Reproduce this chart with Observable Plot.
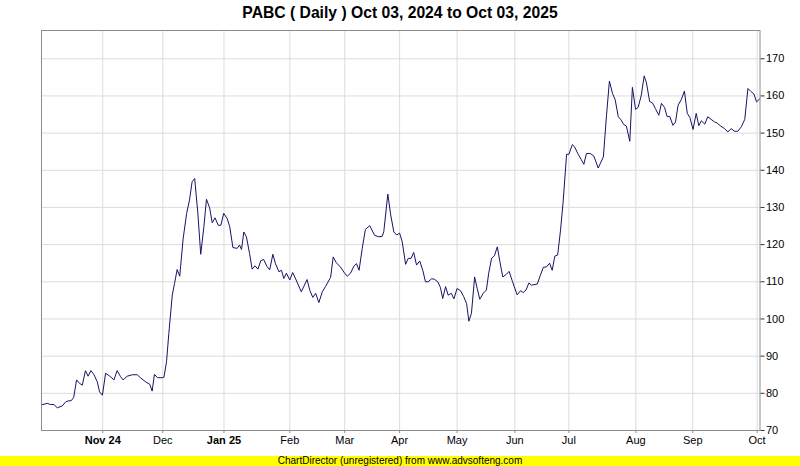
<!DOCTYPE html>
<html>
<head>
<meta charset="utf-8">
<script src="https://cdn.jsdelivr.net/npm/d3@7"></script>
<script src="https://cdn.jsdelivr.net/npm/@observablehq/plot@0.6"></script>
<style>
  html, body { margin: 0; padding: 0; background: #fff; }
  body { width: 800px; height: 466px; overflow: hidden; font-family: "Liberation Sans", Arial, sans-serif; }
  #title { height: 29px; line-height: 26px; text-align: center; font-weight: bold; font-size: 15.7px; color: #000; }
  #footer { height: 10px; line-height: 10px; background: #ffff00; text-align: center; font-size: 10px; color: #000; }
  #chart svg { display: block; }
</style>
</head>
<body>
<div id="title">PABC ( Daily ) Oct 03, 2024 to Oct 03, 2025</div>
<div id="chart"></div>
<div id="footer">ChartDirector (unregistered) from www.advsofteng.com</div>
<script>
// trading-day index (0 = Oct 03, 2024 ... 250 = Oct 03, 2025)
const days = [
  0.0, 2.0, 3.1, 4.3, 5.5, 7.2, 8.4, 9.5, 10.3, 11.2, 12.2, 13.2, 14.2, 15.3, 16.2, 17.2, 18.2, 19.4, 20.2, 21.2,
  22.3, 23.8, 25.2, 26.3, 27.5, 28.4, 29.8, 31.6, 33.3, 34.4, 36.2, 37.7, 38.5, 39.3, 40.4, 42.0, 42.6,
  43.5, 44.3, 45.5, 46.3, 47.2, 48.1, 48.6, 49.3, 50.5, 51.5, 52.4, 53.3, 54.4, 55.4, 56.5, 57.4, 58.5, 59.4,
  60.4, 61.5, 62.4, 63.4, 64.6, 65.5, 66.6, 68.1, 68.9, 69.6, 70.4, 71.3, 72.4, 73.3, 74.3, 75.3, 76.3, 77.3,
  78.4, 79.4,
  80.5, 81.4, 82.6, 83.5, 84.3, 85.2, 86.4, 87.4, 88.6, 90.4, 91.3, 92.4, 93.4, 94.4, 95.4, 96.5, 97.7, 98.8,
  100.6, 101.5, 102.6, 104.0, 105.4, 106.4, 107.5, 108.7, 109.6, 110.5, 111.6, 112.7, 114.2, 115.9, 117.4,
  118.5, 119.1, 120.5, 121.5, 122.6, 123.6, 124.6,
  125.5, 126.7, 127.6, 128.6, 129.5, 130.5, 131.6, 132.7, 133.6, 134.5, 135.7, 136.7, 137.9, 138.8, 139.6,
  140.6, 141.5, 142.6, 143.5, 144.6, 145.8, 146.9, 147.9, 148.7, 149.6, 150.7, 151.6, 152.5, 153.7, 154.8,
  155.6, 156.6, 157.6, 158.6, 159.5, 160.5, 161.7, 162.7, 163.9, 165.5, 166.7, 167.6, 168.6, 169.6,
  170.5, 172.5, 173.6, 174.6, 175.7, 176.8, 177.7, 178.6, 179.6, 180.6, 181.5, 182.7, 183.5, 184.7, 185.5,
  186.6, 187.8, 188.7, 189.6, 191.0, 192.2, 193.7, 195.5, 196.6, 197.6, 198.7, 199.6, 200.7, 201.5, 202.6,
  203.5, 204.7, 205.6, 206.7, 207.6, 208.7, 209.7, 210.5, 211.6, 212.6, 213.6, 214.8, 215.7, 216.8, 217.7,
  218.6, 219.7, 220.6, 221.5, 222.6, 223.7, 224.7, 225.6, 226.7, 227.8, 228.7, 229.6, 230.8, 231.8, 233.0,
  234.2, 235.1, 236.3, 237.7, 238.8, 240.0, 241.1, 242.3, 243.5, 244.7, 245.8, 246.7, 247.9, 248.8, 250.0
];
const prices = [
  76.9, 77.3, 77.0, 77.0, 76.1, 76.6, 77.7, 78.0, 78.0, 78.9, 83.6, 82.7, 82.2, 86.1, 84.6, 86.1, 85.1, 83.1, 80.4, 79.5,
  85.4, 84.6, 83.6, 86.1, 84.5, 83.6, 84.6, 85.0, 85.0, 84.2, 83.1, 82.4, 80.6, 85.1, 84.2, 84.2, 84.3,
  88.5, 96.1, 106.4, 109.6, 113.3, 111.5, 115.8, 121.7, 128.4, 132.0, 136.9, 137.8, 128.4, 117.4, 124.8, 132.2, 129.9, 125.9,
  127.2, 125.2, 125.2, 128.4, 127.0, 124.8, 119.2, 119.0, 119.9, 118.7, 123.4, 122.1, 117.6, 113.4, 114.3, 113.4, 115.7, 116.0,
  114.2, 113.2,
  117.4, 114.9, 112.7, 113.1, 110.9, 112.3, 110.5, 112.5, 110.5, 107.3, 108.8, 110.6, 107.6, 105.8, 106.9, 104.4, 107.3, 108.7,
  111.2, 116.7, 115.1, 114.0, 112.4, 111.5, 112.3, 114.2, 114.9, 113.1, 119.0, 124.1, 125.1, 122.5, 122.1,
  122.2, 123.5, 133.6, 128.0, 123.4, 122.6, 123.1,
  120.8, 114.7, 116.3, 116.3, 117.9, 114.5, 115.6, 113.0, 110.0, 110.0, 110.8, 110.7, 110.0, 108.5, 105.5,
  108.7, 106.4, 106.9, 105.4, 108.2, 107.6, 106.0, 104.2, 99.4, 101.5, 111.3, 108.2, 105.3, 106.9, 107.8,
  112.3, 116.3, 117.0, 119.4, 115.4, 111.3, 112.0, 112.8, 110.0, 106.5, 107.6, 107.1, 107.8, 109.7,
  109.1, 109.4, 111.8, 113.9, 114.0, 115.0, 113.1, 116.9, 117.2, 123.9, 131.5, 144.3, 144.3, 146.9, 146.3,
  144.5, 142.9, 141.6, 144.5, 144.5, 143.8, 140.6, 143.6, 154.8, 164.0, 160.6, 159.0, 154.4, 153.7, 152.3,
  151.9, 147.8, 162.3, 156.4, 156.9, 160.2, 165.4, 163.5, 158.5, 158.1, 156.6, 154.8, 158.0, 156.9, 154.4,
  154.5, 152.1, 153.0, 157.5, 159.0, 161.3, 155.3, 154.2, 151.0, 155.3, 152.0, 153.3, 152.4, 154.4, 153.7,
  153.0, 152.7, 151.9, 151.2, 150.3, 151.2, 150.5, 150.5, 151.7, 153.7, 162.0, 161.3, 160.5, 158.4, 159.3
];
const monthTicks  = [21.3, 42.2, 63.5, 86.4, 105.5, 124.6, 144.6, 164.7, 183.5, 206.8, 226.6, 249.0];
const monthLabels = ["Nov 24", "Dec", "Jan 25", "Feb", "Mar", "Apr", "May", "Jun", "Jul", "Aug", "Sep", "Oct"];
const boldLabels  = ["Nov 24", "Jan 25"];
const priceTicks  = [70, 80, 90, 100, 110, 120, 130, 140, 150, 160, 170];

const rows = days.map((d, i) => ({day: d, price: prices[i]}));
const labelOf = new Map(monthTicks.map((t, i) => [t, monthLabels[i]]));
const normalTicks = monthTicks.filter((t, i) => !boldLabels.includes(monthLabels[i]));
const boldTicks = monthTicks.filter((t, i) => boldLabels.includes(monthLabels[i]));

const chart = Plot.plot({
  width: 800,
  height: 427,
  marginLeft: 41,
  marginRight: 40.5,
  marginTop: 1,
  marginBottom: 26,
  x: {domain: [0, 250]},
  y: {domain: [70, 177.6]},
  style: {fontFamily: "'Liberation Sans', Arial, sans-serif", fontSize: "11px", color: "#000", background: "#fff", overflow: "visible"},
  marks: [
    Plot.gridX(monthTicks, {stroke: "#dcdcdc", strokeOpacity: 1}),
    Plot.gridY(priceTicks, {stroke: "#dcdcdc", strokeOpacity: 1}),
    Plot.line(rows, {x: "day", y: "price", stroke: "#141466", strokeWidth: 1}),
    Plot.frame({stroke: "#8c8c8c"}),
    Plot.axisX(normalTicks, {tickFormat: d => labelOf.get(d), tickSize: 3, tickPadding: 3, label: null, stroke: "#8c8c8c", fill: "#000"}),
    Plot.axisX(boldTicks, {tickFormat: d => labelOf.get(d), tickSize: 3, tickPadding: 3, label: null, stroke: "#8c8c8c", fill: "#000", fontWeight: "bold"}),
    Plot.axisY(priceTicks, {anchor: "right", tickSize: 4, tickPadding: 2, label: null, stroke: "#333", fill: "#000"})
  ]
});
document.getElementById("chart").appendChild(chart);
</script>
</body>
</html>
